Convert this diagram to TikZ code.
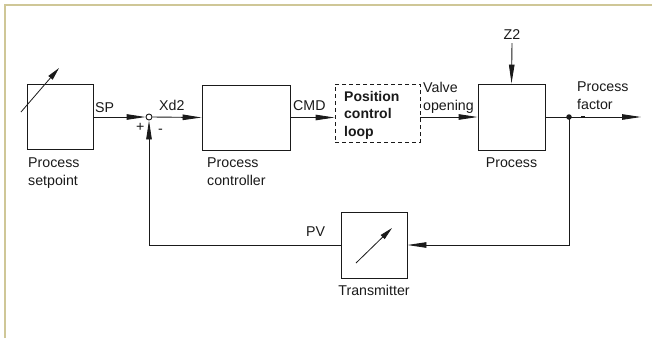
\documentclass[tikz,border=0pt]{standalone}
\usepackage{fontspec}
\setmainfont{Liberation Sans}
\usetikzlibrary{arrows.meta}
\definecolor{frame}{HTML}{CFC797}
\definecolor{ink}{HTML}{1A1A1A}
\begin{document}
\begin{tikzpicture}[x=1pt,y=-1pt,
  every node/.style={font=\fontsize{14.2}{17.8}\selectfont, text=ink, inner sep=0pt},
  blk/.style={draw=ink, line width=0.9pt, minimum width=#1},
  lbl/.style={anchor=base west, align=left},
  conn/.style={draw=ink, line width=0.9pt},
  arr/.style={conn, -{Triangle[length=19pt,width=5.5pt]}},
  dial/.style={draw=ink, line width=0.8pt, -{Triangle[length=13pt,width=5.5pt]}}]
\useasboundingbox (0,0) rectangle (652,338);
\fill[white] (0,0) rectangle (652,338);
\draw[frame, line width=1.6pt] (5,338) -- (5,5) -- (652,5);

% blocks
\node[blk=66pt, minimum height=65pt] (sp) at (60,117) {};
\node[blk=88pt, minimum height=65pt] (ctrl) at (246,117.5) {};
\node[blk=85pt, minimum height=58pt, dashed, dash pattern=on 4pt off 3pt] (pcl) at (377.5,113) {};
\node[blk=67pt, minimum height=66pt] (proc) at (511.5,117) {};
\node[blk=66pt, minimum height=66pt] (tr) at (374,245) {};
\node[draw=ink, line width=0.9pt, circle, minimum size=6pt, fill=white] (sum) at (149,117) {};
\node[circle, fill=ink, minimum size=5.5pt] (dot) at (569,117) {};
\coordinate (out) at (641,117);
\node[anchor=base] (z2) at (512,39) {Z2};

% dial arrows
\coordinate (spa) at (21,112);
\coordinate (spb) at (59,68);
\draw[dial] (spa) -- (spb);
\coordinate (tra) at (356,263);
\coordinate (trb) at (392,228);
\draw[dial] (tra) -- (trb);

% connectors
\draw[arr] (sp.east) -- (sum.west);
\draw[arr] (sum.east) -- (ctrl.west);
\draw[arr] (ctrl.east) -- (ctrl.east -| pcl.west);
\draw[arr] (pcl.east |- proc.west) -- (proc.west);
\draw[arr] (z2.south) ++(0,4) -- (proc.north);
\draw[arr] (proc.east) -- (out);
\draw[arr] (dot.center) |- (tr.east);
\draw[arr] (tr.west) -| (sum.south);
\draw[ink, line width=2pt] (581,117) -- (585,117);

% labels
\node[lbl] (lsp) at (95,112) {SP};
\node[lbl] (lxd) at (159,110) {Xd2};
\node[lbl] (lplus) at (136,131) {+};
\node[lbl] (lminus) at (158,133) {-};
\node[lbl] (lcmd) at (293,110) {CMD};
\node[lbl, font=\fontsize{14}{17.5}\selectfont\bfseries] (lpcl) at (344,136) {Position\\control\\loop};
\node[lbl] (lvo) at (423,110) {Valve\\opening};
\node[lbl] (lpf) at (577,109) {Process\\factor};
\node[lbl] (lsps) at (28,185) {Process\\setpoint};
\node[lbl] (lpc) at (207,185) {Process\\controller};
\node[anchor=base] (lproc) at (proc.south |- 0,167) {Process};
\node[anchor=base] (ltr) at (tr.south |- 0,295) {Transmitter};
\node[lbl] (lpv) at (306,236) {PV};
\end{tikzpicture}
\end{document}
